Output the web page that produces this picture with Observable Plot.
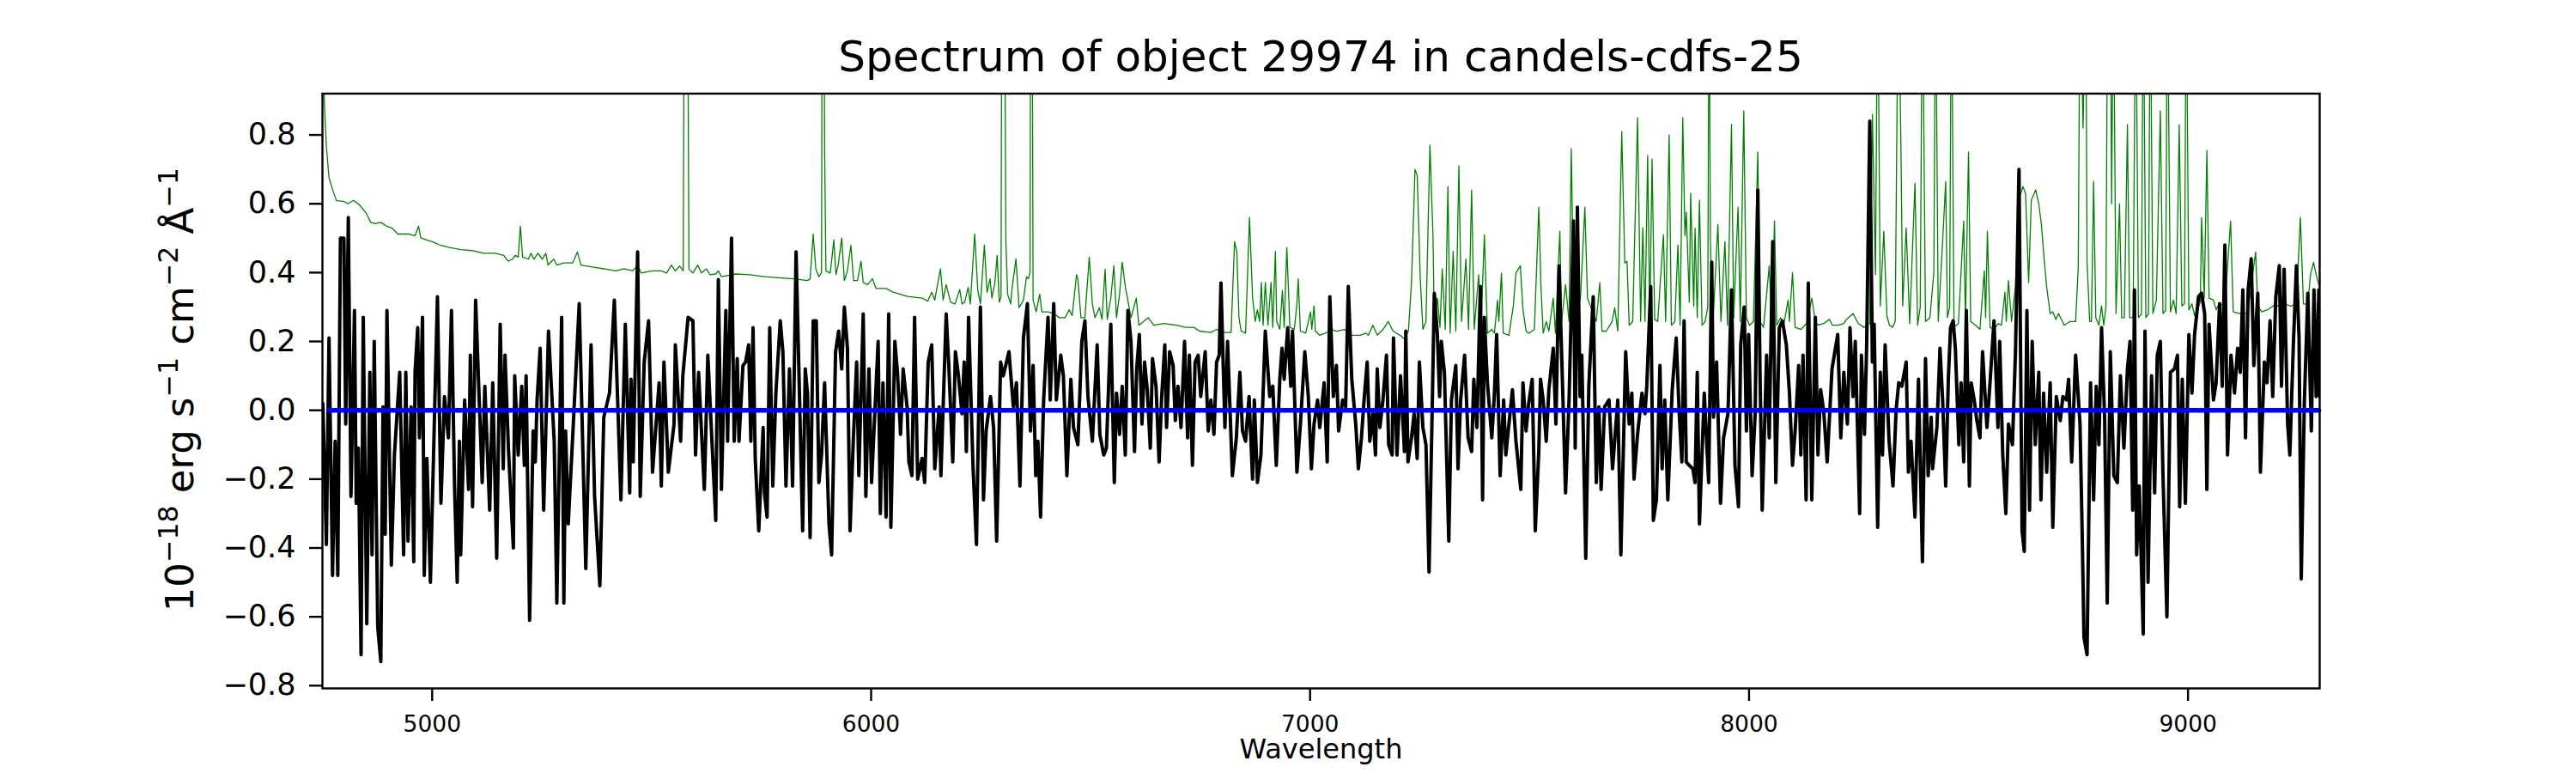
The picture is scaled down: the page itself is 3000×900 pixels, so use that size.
<!DOCTYPE html>
<html>
<head>
<meta charset="utf-8">
<script src="https://cdn.jsdelivr.net/npm/d3@7"></script>
<script src="https://cdn.jsdelivr.net/npm/@observablehq/plot@0.6"></script>
<style>
  html, body { margin: 0; padding: 0; background: white; }
  #wrap { width: 3000px; height: 900px; position: relative; overflow: hidden; }
  #title { position: absolute; left: 375px; top: 0; width: 2326px; height: 100px; box-sizing: border-box;
           padding-top: 41px; text-align: center; font-family: "DejaVu Sans"; font-size: 50px; line-height: 50px; color: black; }
  #chart { position: absolute; left: 0; top: 100px; }
</style>
</head>
<body>
<div id="wrap">
  <div id="title">Spectrum of object 29974 in candels-cdfs-25</div>
  <div id="chart"></div>
</div>
<script>
// ---- data (wavelength in Å, flux in 1e-18 erg/s/cm2/Å) ----
const xTicks = [5000, 6000, 7000, 8000, 9000];
const yTicks = [-0.8, -0.6, -0.4, -0.2, 0.0, 0.2, 0.4, 0.6, 0.8];
const xLabel = "Wavelength";
// y label pieces: [text, isSuperscript]
const yLabelParts = [["10", false], ["−18", true], [" erg s", false], ["−1", true], [" cm", false], ["−2", true], [" Å", false], ["−1", true]];

// object spectrum (black)
const blackA = [[4751,0.02],[4759,-0.39],[4765,0.21],[4773,-0.48],[4779,-0.09],[4785,-0.48],[4791,0.50],[4799,0.50],[4803,-0.04],[4809,0.56],[4815,-0.25],[4823,0.29],[4827,-0.27],[4832,-0.11],[4838,-0.71],[4843,0.27],[4851,-0.62],[4858,0.11],[4863,-0.42],[4868,0.20],[4876,-0.63],[4883,-0.73],[4888,0.01],[4893,-0.36],[4897,0.29],[4907,-0.45],[4914,-0.13],[4926,0.11],[4935,-0.42],[4940,0.11],[4945,-0.38],[4952,0.01],[4958,-0.44],[4961,0.11],[4967,0.24],[4971,-0.08],[4978,0.27],[4982,-0.48],[4988,-0.14],[4996,-0.50],[5012,0.33],[5020,-0.27],[5028,0.04],[5037,-0.08],[5044,0.29],[5051,-0.22],[5057,-0.50],[5062,-0.09],[5065,-0.42],[5074,0.03],[5083,-0.23],[5087,0.16],[5092,-0.28],[5099,0.32],[5114,-0.21],[5120,0.07],[5131,-0.29],[5138,0.08],[5147,-0.43],[5155,0.25],[5162,-0.17],[5166,0.16],[5174,-0.12],[5185,-0.40],[5188,0.10],[5196,-0.13],[5204,0.07],[5210,-0.16],[5214,0.10],[5222,-0.61],[5230,-0.06],[5235,-0.15],[5239,0.03],[5246,0.18],[5254,-0.29],[5265,0.23],[5278,-0.09],[5284,-0.56],[5295,0.27],[5300,-0.56],[5304,-0.06],[5310,-0.33],[5320,-0.08],[5335,0.31],[5350,-0.46],[5362,0.19],[5370,-0.25],[5382,-0.51],[5391,-0.02],[5404,0.05],[5415,0.32],[5430,-0.26],[5440,0.25],[5450,-0.24],[5453,0.09],[5458,-0.15],[5468,0.46],[5474,-0.25],[5483,0.14],[5493,0.26],[5502,-0.18],[5517,0.08],[5522,-0.22],[5528,0.14],[5538,-0.18],[5551,-0.04],[5554,0.19],[5566,-0.09],[5571,0.10],[5583,0.27],[5594,0.26],[5600,-0.13],[5607,0.11],[5620,-0.23],[5628,0.16],[5646,-0.32],[5652,0.38]];
const blackB = [[5659,-0.23],[5669,0.29],[5673,-0.09],[5682,0.50],[5688,-0.09],[5695,0.15],[5699,-0.09],[5708,0.13],[5714,0.14],[5721,0.19],[5726,-0.09],[5731,0.24],[5736,-0.14],[5744,-0.35],[5754,-0.05],[5757,-0.24],[5763,-0.31],[5769,0.24],[5776,-0.22],[5783,0.05],[5793,0.26],[5799,0.17],[5806,-0.22],[5814,0.12],[5821,-0.22],[5829,0.46],[5835,0.14],[5844,-0.35],[5850,0.12],[5855,0.05],[5861,-0.37],[5868,0.26],[5875,0.26],[5881,-0.21],[5887,-0.13],[5894,0.08],[5904,-0.33],[5910,-0.42],[5919,0.17],[5926,0.23],[5933,0.12],[5939,0.30],[5946,0.18],[5952,-0.35],[5959,-0.10],[5967,0.14],[5972,-0.19],[5982,0.28],[5988,-0.25],[5995,0.12],[6001,-0.21],[6016,0.20],[6021,-0.30],[6027,0.08],[6034,-0.31],[6040,0.28],[6045,-0.34],[6054,0.20],[6060,0.11],[6067,-0.07],[6073,0.12],[6082,0.01],[6086,-0.15],[6093,-0.19],[6099,0.27],[6106,-0.20],[6116,-0.14],[6122,-0.21],[6130,0.14],[6138,0.19],[6145,-0.17],[6155,0.01],[6159,-0.19],[6171,0.28],[6177,0.13],[6186,-0.15],[6192,0.17],[6199,0.10],[6207,-0.01],[6212,0.14],[6217,-0.12],[6222,0.27],[6232,-0.16],[6240,-0.39],[6249,0.30],[6256,-0.26],[6262,-0.06],[6272,0.04],[6279,-0.05],[6286,-0.38],[6295,0.14],[6301,0.10],[6314,0.17],[6324,0.01],[6331,0.08],[6339,-0.22],[6347,0.21],[6356,0.31],[6363,-0.06],[6369,0.13],[6375,-0.19],[6380,-0.09],[6386,-0.31],[6393,0.03],[6403,0.27],[6408,0.03],[6416,0.31],[6422,0.03],[6432,0.16],[6438,0.10],[6446,-0.19],[6455,0.09],[6461,-0.05],[6471,-0.10],[6480,0.20],[6487,0.26],[6494,0.04],[6504,-0.09],[6515,0.19],[6521,-0.07],[6530,-0.13],[6536,-0.11],[6546,0.25],[6554,-0.21],[6559,0.05],[6566,-0.07],[6572,0.07]];
const blackC = [[6579,-0.13],[6585,0.29],[6592,0.20],[6600,-0.12],[6605,0.12],[6611,0.22],[6617,-0.04],[6623,0.14],[6629,0.06],[6636,-0.11],[6641,0.15],[6649,0.07],[6656,-0.15],[6662,0.04],[6669,0.19],[6673,-0.05],[6680,0.17],[6688,0.13],[6693,-0.03],[6699,0.07],[6706,-0.05],[6714,0.20],[6721,-0.08],[6725,0.16],[6732,-0.16],[6738,0.14],[6745,0.16],[6751,0.04],[6761,0.17],[6768,-0.06],[6774,0.03],[6781,-0.07],[6787,0.14],[6793,0.16],[6797,0.37],[6806,-0.05],[6812,0.20],[6823,-0.19],[6832,-0.08],[6840,0.11],[6846,-0.06],[6853,-0.09],[6861,0.04],[6869,-0.20],[6873,0.03],[6880,-0.21],[6888,-0.13],[6898,0.23],[6908,0.04],[6915,0.07],[6923,-0.16],[6931,0.09],[6936,0.18],[6941,0.09],[6949,0.24],[6956,0.07],[6960,0.23],[6970,-0.18],[6978,-0.04],[6988,0.17],[6996,0.04],[7003,-0.17],[7009,-0.04],[7017,0.03],[7022,-0.05],[7032,0.08],[7039,-0.15],[7045,0.33],[7053,0.04],[7060,0.13],[7065,-0.06],[7074,0.03],[7081,0.01],[7087,0.36],[7095,0.09],[7104,-0.04],[7110,-0.17],[7117,-0.08],[7123,0.03],[7130,0.14],[7136,-0.09],[7143,-0.01],[7149,-0.13],[7153,0.12],[7159,-0.05],[7166,0.03],[7174,0.16],[7179,-0.10],[7187,-0.13],[7190,0.21],[7198,-0.13],[7206,0.10],[7215,-0.12],[7218,0.23],[7223,-0.15],[7231,-0.08],[7237,-0.01],[7244,-0.14],[7249,0.14],[7257,-0.05],[7264,-0.10],[7271,-0.47],[7278,-0.01],[7283,0.34],[7290,0.22],[7295,0.04],[7299,0.20],[7306,0.11],[7316,-0.38],[7322,0.03],[7332,0.13],[7337,-0.17],[7343,0.03],[7352,0.16],[7360,-0.08],[7368,-0.12],[7373,0.09],[7380,-0.05],[7388,0.36],[7393,-0.26],[7397,0.27],[7404,0.08],[7414,-0.08],[7420,0.05],[7425,0.22],[7433,-0.19],[7441,0.03],[7446,-0.13],[7453,-0.04],[7461,0.06],[7469,-0.09],[7480,-0.23],[7485,0.08],[7492,-0.06]];
const blackD = [[7498,0.02],[7506,0.09],[7513,-0.35],[7521,-0.12],[7525,0.09],[7531,0.03],[7538,-0.09],[7544,0.06],[7554,0.18],[7560,-0.04],[7567,0.42],[7575,0.08],[7582,-0.24],[7590,0.03],[7600,0.55],[7604,-0.11],[7609,0.59],[7615,0.04],[7619,0.16],[7628,-0.43],[7635,0.07],[7645,0.33],[7652,-0.21],[7658,0.01],[7663,-0.23],[7671,0.01],[7681,0.03],[7689,-0.17],[7701,0.03],[7708,-0.42],[7719,0.17],[7727,-0.04],[7733,0.05],[7738,-0.20],[7746,-0.07],[7756,0.05],[7763,-0.01],[7767,0.07],[7776,0.36],[7782,-0.32],[7789,-0.26],[7797,0.13],[7802,-0.17],[7808,0.03],[7815,-0.26],[7825,0.06],[7834,0.21],[7841,-0.01],[7847,-0.15],[7852,0.26],[7857,-0.15],[7864,-0.16],[7872,-0.17],[7877,-0.21],[7882,0.11],[7887,-0.33],[7898,0.05],[7908,-0.21],[7915,0.43],[7919,-0.02],[7926,0.14],[7935,-0.27],[7942,-0.08],[7952,-0.01],[7960,0.35],[7968,-0.16],[7976,-0.28],[7981,0.19],[7989,0.30],[7994,-0.06],[7999,0.22],[8007,-0.19],[8014,-0.01],[8020,0.64],[8025,0.11],[8030,-0.29],[8040,0.16],[8046,-0.08],[8054,0.49],[8061,-0.21],[8069,0.24],[8076,0.26],[8085,0.19],[8092,0.05],[8099,-0.16],[8105,-0.06],[8113,0.13],[8118,-0.13],[8123,0.16],[8130,-0.26],[8135,0.37],[8143,-0.26],[8151,0.27],[8157,-0.13],[8163,0.06],[8170,0.00],[8178,-0.15],[8189,0.12],[8202,0.22],[8209,-0.08],[8216,0.11],[8224,-0.04],[8230,0.24],[8237,0.04],[8242,0.20],[8252,-0.30],[8256,0.16],[8263,-0.07],[8268,0.19],[8275,0.84],[8281,0.14],[8285,0.25],[8293,-0.34],[8299,0.11],[8304,-0.13],[8310,0.19],[8319,-0.09],[8328,-0.22],[8335,0.00],[8341,0.08],[8348,0.07],[8358,0.14],[8363,-0.18],[8369,-0.09],[8378,-0.31],[8386,0.09],[8395,-0.44],[8402,0.15],[8408,-0.19],[8415,-0.02]];
const blackE = [[8418,-0.17],[8428,-0.05],[8435,0.18],[8441,0.03],[8448,-0.22],[8454,0.09],[8459,0.24],[8465,0.26],[8470,0.18],[8478,-0.10],[8483,0.08],[8489,-0.15],[8495,0.29],[8502,-0.22],[8506,0.08],[8513,0.03],[8519,-0.03],[8526,-0.08],[8532,0.17],[8542,-0.05],[8549,0.08],[8558,0.26],[8567,-0.05],[8571,0.20],[8578,-0.13],[8585,-0.30],[8591,-0.04],[8600,-0.10],[8607,0.17],[8615,0.70],[8622,-0.35],[8627,-0.41],[8633,0.29],[8639,-0.29],[8645,0.20],[8652,-0.10],[8660,0.11],[8665,-0.26],[8671,0.05],[8678,-0.18],[8686,0.08],[8692,-0.34],[8700,0.04],[8709,-0.03],[8715,0.04],[8723,0.03],[8728,0.09],[8735,-0.15],[8744,0.16],[8754,-0.04],[8759,-0.36],[8763,-0.66],[8770,-0.71],[8778,0.08],[8785,-0.26],[8791,0.07],[8797,-0.10],[8803,0.24],[8810,-0.02],[8816,-0.56],[8823,0.17],[8831,-0.19],[8839,-0.21],[8846,0.10],[8854,-0.11],[8862,0.12],[8868,0.20],[8874,-0.29],[8878,0.35],[8883,-0.42],[8889,-0.22],[8898,-0.65],[8902,0.23],[8909,-0.50],[8917,0.10],[8924,-0.24],[8930,0.16],[8937,0.20],[8943,-0.19],[8952,-0.60],[8960,0.11],[8969,0.12],[8976,0.16],[8981,-0.28],[8987,0.09],[8994,-0.27],[9002,0.22],[9009,0.05],[9015,0.22],[9024,0.33],[9031,0.34],[9038,0.28],[9043,-0.23],[9048,0.25],[9058,0.03],[9064,0.08],[9072,0.31],[9078,0.07],[9084,0.48],[9090,-0.13],[9098,0.16],[9106,0.05],[9113,0.18],[9119,0.11],[9125,0.35],[9131,-0.08],[9137,0.35],[9144,0.44],[9150,0.13],[9159,0.34],[9165,-0.18],[9174,0.14],[9180,0.08],[9187,0.26],[9193,0.04],[9200,0.33],[9208,0.42],[9213,0.07],[9219,0.41],[9227,-0.04],[9232,-0.13],[9240,0.19],[9247,0.42],[9253,0.21],[9258,-0.49],[9265,0.02],[9273,0.34],[9281,-0.06],[9287,0.35],[9292,0.04],[9298,0.35],[9300,0.04]];

// noise / sky spectrum (green)
const skyA = [[4751,1.05],[4753,0.95],[4755,0.875],[4759,0.767],[4765,0.675],[4775,0.634],[4782,0.609],[4798,0.607],[4808,0.600],[4821,0.610],[4834,0.597],[4850,0.572],[4860,0.546],[4870,0.542],[4883,0.546],[4896,0.535],[4909,0.529],[4922,0.512],[4948,0.512],[4961,0.507],[4969,0.535],[4974,0.501],[4987,0.495],[5000,0.490],[5020,0.479],[5039,0.473],[5065,0.467],[5091,0.464],[5117,0.456],[5144,0.456],[5163,0.450],[5173,0.433],[5183,0.439],[5189,0.450],[5196,0.445],[5201,0.535],[5206,0.445],[5219,0.439],[5225,0.456],[5232,0.439],[5241,0.456],[5251,0.439],[5259,0.456],[5264,0.422],[5277,0.439],[5284,0.422],[5300,0.428],[5320,0.428],[5331,0.460],[5339,0.422],[5365,0.416],[5391,0.411],[5418,0.405],[5437,0.411],[5457,0.405],[5468,0.422],[5476,0.399],[5502,0.405],[5522,0.405],[5534,0.399],[5545,0.422],[5554,0.405],[5564,0.419],[5572,0.405],[5575,1.6],[5581,1.6],[5585,0.410],[5594,0.399],[5605,0.422],[5613,0.399],[5625,0.411],[5633,0.394],[5646,0.396],[5652,0.405]];
const skyB = [[5659,0.388],[5692,0.396],[5724,0.394],[5757,0.388],[5789,0.385],[5822,0.382],[5855,0.377],[5861,0.382],[5868,0.512],[5874,0.411],[5881,0.388],[5887,0.40],[5889,1.6],[5892,1.6],[5894,0.767],[5897,0.405],[5907,0.399],[5915,0.495],[5920,0.394],[5925,0.422],[5933,0.501],[5939,0.377],[5946,0.405],[5954,0.479],[5960,0.377],[5969,0.377],[5977,0.433],[5982,0.371],[5992,0.365],[6003,0.382],[6011,0.354],[6034,0.354],[6050,0.343],[6083,0.331],[6116,0.326],[6129,0.317],[6138,0.343],[6145,0.320],[6158,0.411],[6164,0.320],[6171,0.365],[6181,0.314],[6191,0.309],[6202,0.351],[6207,0.309],[6213,0.314],[6221,0.357],[6226,0.309],[6236,0.512],[6243,0.348],[6249,0.309],[6258,0.480],[6264,0.343],[6271,0.382],[6275,0.326],[6282,0.371],[6287,0.450],[6292,0.314],[6296,0.33],[6298,1.6],[6303,1.6],[6307,0.490],[6311,0.337],[6318,0.309],[6321,0.354],[6330,0.440],[6337,0.298],[6347,0.320],[6354,0.388],[6358,0.382],[6362,0.40],[6364,1.6],[6366,1.6],[6369,0.320],[6376,0.286],[6384,0.337],[6389,0.286],[6403,0.286],[6416,0.281],[6429,0.269],[6442,0.269],[6451,0.292],[6458,0.275],[6468,0.394],[6471,0.382],[6478,0.269],[6487,0.269],[6497,0.445],[6504,0.309],[6510,0.269],[6520,0.298],[6526,0.264],[6533,0.410],[6538,0.264],[6546,0.326],[6553,0.420],[6559,0.269],[6566,0.337],[6572,0.430]];
const skyC = [[6579,0.360],[6592,0.269],[6604,0.326],[6610,0.247],[6631,0.269],[6644,0.247],[6667,0.252],[6696,0.247],[6716,0.241],[6735,0.241],[6748,0.230],[6774,0.226],[6787,0.235],[6800,0.226],[6820,0.226],[6828,0.490],[6833,0.462],[6838,0.269],[6843,0.230],[6853,0.224],[6862,0.560],[6869,0.326],[6875,0.258],[6880,0.292],[6885,0.258],[6889,0.371],[6893,0.247],[6898,0.371],[6904,0.247],[6911,0.371],[6915,0.241],[6921,0.462],[6924,0.258],[6931,0.235],[6937,0.348],[6941,0.241],[6947,0.473],[6954,0.241],[6964,0.235],[6970,0.309],[6973,0.382],[6978,0.230],[6990,0.224],[7001,0.286],[7004,0.235],[7009,0.303],[7012,0.230],[7022,0.218],[7035,0.224],[7048,0.235],[7061,0.230],[7078,0.235],[7094,0.218],[7114,0.218],[7127,0.224],[7133,0.218],[7143,0.247],[7153,0.218],[7166,0.235],[7178,0.258],[7189,0.230],[7205,0.218],[7215,0.207],[7224,0.230],[7231,0.371],[7239,0.700],[7244,0.682],[7251,0.382],[7257,0.235],[7264,0.258],[7273,0.770],[7280,0.507],[7283,0.247],[7290,0.326],[7296,0.241],[7301,0.411],[7308,0.235],[7314,0.650],[7319,0.224],[7326,0.462],[7332,0.230],[7339,0.710],[7345,0.258],[7355,0.439],[7361,0.235],[7368,0.640],[7374,0.235],[7384,0.394],[7389,0.224],[7397,0.510],[7404,0.224],[7414,0.235],[7420,0.224],[7427,0.320],[7430,0.258],[7436,0.399],[7440,0.224],[7453,0.218],[7463,0.303],[7469,0.399],[7479,0.420],[7485,0.292],[7492,0.230]];
const skyD = [[7498,0.224],[7511,0.235],[7521,0.590],[7526,0.360],[7531,0.224],[7538,0.258],[7544,0.230],[7554,0.326],[7559,0.224],[7569,0.520],[7573,0.258],[7582,0.365],[7590,0.258],[7595,0.760],[7600,0.371],[7606,0.281],[7616,0.326],[7626,0.590],[7632,0.326],[7642,0.292],[7652,0.258],[7660,0.371],[7665,0.230],[7675,0.230],[7688,0.258],[7694,0.298],[7701,0.230],[7710,0.810],[7717,0.428],[7722,0.433],[7727,0.247],[7735,0.258],[7746,0.850],[7753,0.258],[7758,0.530],[7763,0.258],[7769,0.740],[7774,0.258],[7779,0.730],[7785,0.264],[7792,0.258],[7805,0.510],[7810,0.258],[7818,0.800],[7823,0.247],[7831,0.258],[7838,0.480],[7843,0.247],[7849,0.850],[7854,0.507],[7857,0.575],[7864,0.314],[7867,0.630],[7874,0.303],[7877,0.529],[7882,0.269],[7887,0.610],[7893,0.247],[7900,0.258],[7906,0.30],[7909,1.3],[7912,0.50],[7915,0.303],[7919,0.281],[7929,0.540],[7936,0.258],[7945,0.490],[7951,0.247],[7960,0.830],[7965,0.269],[7975,0.590],[7980,0.258],[7988,0.870],[7994,0.269],[8001,0.247],[8010,0.258],[8020,0.750],[8025,0.258],[8033,0.241],[8046,0.420],[8052,0.247],[8058,0.550],[8063,0.247],[8072,0.269],[8079,0.247],[8089,0.320],[8092,0.258],[8099,0.400],[8105,0.241],[8118,0.235],[8131,0.252],[8143,0.326],[8151,0.258],[8157,0.247],[8170,0.252],[8183,0.264],[8190,0.247],[8203,0.247],[8216,0.252],[8222,0.264],[8237,0.281],[8249,0.252],[8262,0.241],[8275,0.252],[8281,0.860],[8288,0.394],[8293,1.3],[8299,0.303],[8307,0.520],[8314,0.275],[8320,0.247],[8327,0.241],[8333,0.258],[8340,1.3],[8346,0.770],[8350,0.303],[8358,0.530],[8366,0.252],[8378,0.660],[8384,0.247],[8390,0.30],[8395,1.3],[8402,0.258],[8412,0.269]];
const skyE = [[8421,0.40],[8425,1.3],[8431,0.258],[8441,0.490],[8448,0.665],[8452,0.269],[8457,0.30],[8461,1.3],[8467,0.241],[8477,0.252],[8489,0.550],[8493,0.258],[8500,0.750],[8505,0.258],[8516,0.247],[8526,0.235],[8536,0.405],[8539,0.269],[8543,0.520],[8549,0.241],[8558,0.235],[8568,0.252],[8575,0.247],[8583,0.343],[8586,0.258],[8591,0.377],[8598,0.258],[8607,0.360],[8614,0.610],[8624,0.650],[8630,0.630],[8637,0.371],[8643,0.610],[8653,0.640],[8660,0.600],[8666,0.540],[8673,0.428],[8679,0.348],[8686,0.281],[8692,0.286],[8699,0.264],[8705,0.281],[8718,0.247],[8731,0.258],[8744,0.258],[8750,0.416],[8754,1.3],[8761,0.820],[8767,1.3],[8770,0.433],[8776,0.258],[8780,0.258],[8785,0.665],[8790,0.269],[8797,0.247],[8803,0.303],[8808,0.247],[8813,0.30],[8817,1.3],[8823,1.3],[8826,0.600],[8830,1.3],[8836,0.281],[8844,0.600],[8849,0.269],[8855,0.269],[8862,0.830],[8867,0.269],[8875,0.269],[8881,1.3],[8887,0.269],[8894,0.28],[8898,1.3],[8904,0.269],[8910,0.28],[8914,1.3],[8920,0.281],[8928,0.320],[8937,0.870],[8943,0.281],[8949,0.29],[8953,1.3],[8960,0.286],[8967,0.320],[8973,0.281],[8980,0.830],[8986,0.303],[8992,0.31],[8996,1.3],[9002,0.292],[9009,0.309],[9015,0.275],[9028,0.314],[9031,0.560],[9037,0.326],[9043,0.755],[9048,0.326],[9058,0.320],[9064,0.292],[9071,0.309],[9084,0.303],[9097,0.550],[9103,0.286],[9119,0.281],[9136,0.281],[9154,0.460],[9159,0.303],[9168,0.286],[9181,0.292],[9194,0.303],[9208,0.303],[9221,0.309],[9234,0.303],[9247,0.309],[9256,0.560],[9263,0.309],[9273,0.309],[9279,0.394],[9286,0.430],[9292,0.394],[9299,0.360]];

// continuum model (blue)
const blueLine = [[4764,0.0],[9298,0.0]];

const black = [...blackA, ...blackB, ...blackC, ...blackD, ...blackE];
const sky = [...skyA, ...skyB, ...skyC, ...skyD, ...skyE];

const chart = Plot.plot({
  width: 3000,
  height: 800,
  marginLeft: 375,
  marginRight: 299,
  marginTop: 8.5,
  marginBottom: 99,
  style: { fontFamily: "DejaVu Sans", color: "black", background: "white", overflow: "visible" },
  x: { domain: [4750, 9300] },
  y: { domain: [-0.808, 0.92] },
  marks: [
    Plot.line(sky, { x: d => d[0], y: d => d[1], stroke: "green", strokeWidth: 1.3, clip: true }),
    Plot.line(black, { x: d => d[0], y: d => d[1], stroke: "black", strokeWidth: 4, clip: true }),
    Plot.line(blueLine, { x: d => d[0], y: d => d[1], stroke: "#0000ff", strokeWidth: 5.5 }),
    Plot.frame({ stroke: "black", strokeWidth: 2.4 }),
    Plot.axisX({ ticks: xTicks, tickSize: 15, tickPadding: 17, fontSize: 26.5, strokeWidth: 2.4,
                 tickFormat: d => String(d), label: null }),
    Plot.axisY({ ticks: yTicks, tickSize: 15, tickPadding: 16, fontSize: 35, strokeWidth: 2.4,
                 tickFormat: d3.format(".1f"), label: null }),
    Plot.text([xLabel], { frameAnchor: "bottom", dy: 81, fontSize: 32, fill: "black" })
  ]
});

// y-axis label with real superscripts (mathtext-like), centred on the frame
{
  const svg = d3.select(chart);
  const midY = (8.5 + (800 - 99)) / 2;
  const t = svg.append("text")
    .attr("transform", `translate(225,${midY - 1}) rotate(-90)`)
    .attr("text-anchor", "middle")
    .attr("font-family", "DejaVu Sans")
    .attr("font-size", 45)
    .attr("fill", "black");
  let raised = false;
  for (const [s, sup] of yLabelParts) {
    const ts = t.append("tspan").text(s).attr("font-size", sup ? 31.5 : 45);
    if (sup && !raised) { ts.attr("dy", -18); raised = true; }
    else if (!sup && raised) { ts.attr("dy", 18); raised = false; }
  }
}
document.getElementById("chart").appendChild(chart);
</script>
</body>
</html>
